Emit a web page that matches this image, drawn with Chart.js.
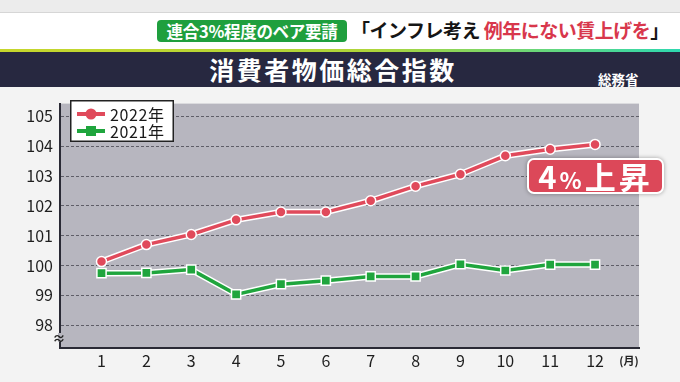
<!DOCTYPE html>
<html><head><meta charset="utf-8">
<script src="https://cdn.jsdelivr.net/npm/chart.js@4"></script>
<style>
body{margin:0;width:680px;height:382px;overflow:hidden;background:#f3f3f3;font-family:"Noto Sans CJK JP","Noto Sans",sans-serif;position:relative}
.abs{position:absolute}
#topstrip{left:0;top:0;width:680px;height:12px;background:#ececec;border-bottom:1px solid #d6d6d6}
#headband{left:0;top:13px;width:680px;height:36px;background:#fff}
#gline{left:0;top:49px;width:680px;height:3px;background:linear-gradient(90deg,#c6d62c 0%,#aed53a 55%,#2ed8b0 100%)}
#titleband{left:0;top:52px;width:680px;height:35px;background:#272840}
#tag{left:157px;top:20px;width:190px;height:22px;border-radius:4px;background:#1f9f3e;color:#fff;font-weight:bold;font-size:16.5px;line-height:22px;text-align:center;letter-spacing:-0.3px}
#hl{left:351px;top:16px;font-size:19px;font-weight:bold;color:#151515;line-height:28px;white-space:nowrap;letter-spacing:-0.5px}
#hl .r{color:#d8374c}
#title{left:0;top:52px;width:666px;height:35px;text-align:center;color:#fff;font-weight:bold;font-size:25px;line-height:35px;letter-spacing:2.5px}
#src{left:598px;top:71px;color:#fff;font-weight:bold;font-size:13.5px;line-height:16px}
#wrap{left:0;top:87px;width:680px;height:295px}
#badge{left:527px;top:158px;width:133px;height:32px;border:2px solid #fff;border-radius:7px;background:#dc4859;color:#fff;font-weight:bold;text-align:center;line-height:32px;box-shadow:0 0 4px rgba(0,0,0,0.35);white-space:nowrap;letter-spacing:3px}
#badge .b{font-size:31px}
#badge .s{font-size:23px}
</style></head>
<body>
<div id="topstrip" class="abs"></div>
<div id="headband" class="abs"></div>
<div id="gline" class="abs"></div>
<div id="titleband" class="abs"></div>
<div id="tag" class="abs">連合3%程度のベア要請</div>
<div id="hl" class="abs">「インフレ考え <span class="r">例年にない賃上げを</span>」</div>
<div id="title" class="abs">消費者物価総合指数</div>
<div id="src" class="abs">総務省</div>
<div id="wrap" class="abs"><canvas id="c" width="680" height="295"></canvas></div>
<div id="badge" class="abs"><span class="b">4</span><span class="s">%</span><span class="b">上昇</span></div>
<script>
const months = [1,2,3,4,5,6,7,8,9,10,11,12];
const monthLabels = ['1','2','3','4','5','6','7','8','9','10','11','12'];
const cpi2022 = [100.13,100.70,101.04,101.53,101.79,101.79,102.17,102.66,103.06,103.68,103.90,104.06];
const cpi2021 = [99.74,99.75,99.86,99.03,99.37,99.49,99.63,99.63,100.04,99.83,100.03,100.03];
const yTicks = [98,99,100,101,102,103,104,105];
const seriesNames = ['2022年','2021年'];
const RED = '#e04a5b', GREEN = '#1fa53d';
const FONT = '"Noto Sans CJK JP","Noto Sans",sans-serif';

const pts = arr => arr.map((v,i)=>({x:months[i], y:v}));

const bgPlugin = {
  id:'bg',
  beforeDraw(chart){
    const {ctx, chartArea:a} = chart;
    ctx.save(); ctx.fillStyle='#b7b6bf';
    ctx.fillRect(a.left, a.top, a.right-a.left, a.bottom-a.top);
    ctx.restore();
  },
  afterDraw(chart){
    const ctx = chart.ctx;
    const a = chart.chartArea;
    ctx.save();
    ctx.strokeStyle='#2a2a35'; ctx.lineWidth=2;
    ctx.beginPath(); ctx.moveTo(a.left-1, a.bottom); ctx.lineTo(a.right, a.bottom); ctx.stroke();
    ctx.fillStyle='#fff'; ctx.fillRect(70,13,104,42);
    ctx.strokeStyle='#222'; ctx.lineWidth=1.5; ctx.strokeRect(70.75,13.75,102.5,40.5);
    const mains = chart.data.datasets.filter(d=>!d.isHalo);
    const rowsY = [27, 44];
    mains.forEach((d,i)=>{
      const y = rowsY[i];
      ctx.strokeStyle = d.borderColor; ctx.lineWidth = 4;
      ctx.beginPath(); ctx.moveTo(77,y); ctx.lineTo(105,y); ctx.stroke();
      ctx.fillStyle = d.borderColor;
      if (d.pointStyle==='rect'){ ctx.fillRect(91-5,y-5,10,10); }
      else { ctx.beginPath(); ctx.arc(91,y,5.5,0,Math.PI*2); ctx.fill(); }
      ctx.fillStyle='#1a1a1a'; ctx.font='16px '+FONT; ctx.textBaseline='middle'; ctx.textAlign='left';
      if ('letterSpacing' in ctx) ctx.letterSpacing='0.6px';
      ctx.fillText(d.label, 110, y+1);
      if ('letterSpacing' in ctx) ctx.letterSpacing='0px';
    });
    ctx.fillStyle='#b7b6bf'; ctx.fillRect(a.left-2, 246, 4, 9);
    ctx.fillStyle='#222'; ctx.font='bold 13px '+FONT; ctx.textAlign='center'; ctx.textBaseline='middle';
    ctx.fillText('≈', a.left-1, 251);
    ctx.font='bold 11px '+FONT; ctx.fillText('(月)', 629, 274);
    ctx.restore();
  }
};

new Chart(document.getElementById('c'), {
  type:'line',
  data:{
    datasets:[
      {label:seriesNames[0], data:pts(cpi2022), borderColor:RED, backgroundColor:RED, borderWidth:3.5,
       pointStyle:'circle', pointRadius:5, pointBackgroundColor:RED, pointBorderColor:'#fff', pointBorderWidth:1.5, order:1},
      {label:'h1', isHalo:true, data:pts(cpi2022), borderColor:'#fff', borderWidth:6.5, pointRadius:0, order:2},
      {label:seriesNames[1], data:pts(cpi2021), borderColor:GREEN, backgroundColor:GREEN, borderWidth:3.5,
       pointStyle:'rect', pointRadius:6.5, pointBackgroundColor:GREEN, pointBorderColor:'#fff', pointBorderWidth:1.5, order:3},
      {label:'h2', isHalo:true, data:pts(cpi2021), borderColor:'#fff', borderWidth:6.5, pointRadius:0, order:4}
    ]
  },
  options:{
    responsive:false, animation:false,
    layout:{padding:{top:6,right:41,left:0,bottom:0}},
    plugins:{legend:{display:false}, tooltip:{enabled:false}},
    scales:{
      x:{type:'linear', min:0.075, max:12.98,
         afterBuildTicks(s){ s.ticks = months.map(v=>({value:v})); },
         afterFit(s){ s.height = 34; },
         grid:{display:false, drawTicks:false},
         border:{display:true, color:'#2a2a35', width:2},
         ticks:{padding:3, color:'#1e1e1e', font:{family:FONT,size:16}, autoSkip:false, maxRotation:0,
           callback:(v)=>monthLabels[months.indexOf(v)] ?? ''}
      },
      y:{min:97.23, max:105.43,
         afterBuildTicks(s){ s.ticks = yTicks.map(v=>({value:v})); },
         afterFit(s){ s.width = 60; },
         grid:{display:true, color:'#5f5e68', lineWidth:1, drawTicks:false},
         border:{display:true, color:'#2a2a35', width:2, dash:[3,2]},
         ticks:{padding:7, color:'#1e1e1e', font:{family:FONT,size:16}}
      }
    }
  },
  plugins:[bgPlugin]
});
</script>
</body></html>
